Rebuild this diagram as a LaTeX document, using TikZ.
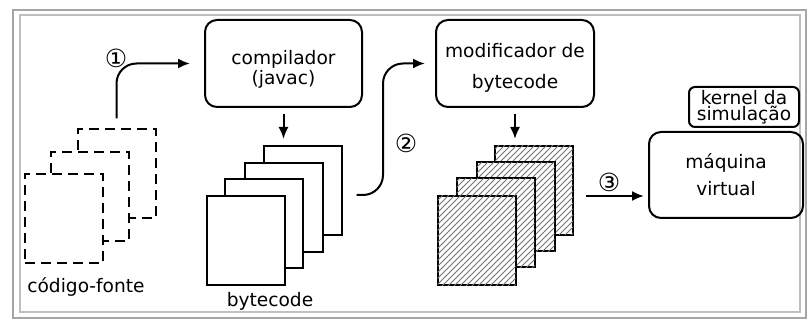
\documentclass[tikz,border=0pt]{standalone}
\usepackage{fontspec}
\setmainfont{DejaVu Sans}
\usetikzlibrary{arrows.meta,patterns}

\tikzset{
  caixa/.style={draw=black, line width=1pt, rounded corners=6pt, align=center,
    inner sep=0pt, font=\fontsize{9.3}{10}\selectfont},
  folha/.style={draw=black, fill=white, line width=1pt, inner sep=0pt,
    minimum width=39pt, minimum height=44.5pt},
  fonte/.style={folha, dash pattern=on 5pt off 3pt},
  alterada/.style={folha, postaction={pattern=north east lines, pattern color=black!55}},
  seta/.style={-{Latex[length=6pt,width=5pt]}, line width=1pt},
  passo/.style={inner sep=0pt, font=\fontsize{12.5}{13}\selectfont},
  rotulo/.style={inner sep=0pt, font=\fontsize{9.3}{10}\selectfont},
}

\begin{document}
\begin{tikzpicture}[x=0.5pt, y=-0.5pt]
    \useasboundingbox (0,0) rectangle (808,320);
    % moldura
    \draw[black!35, line width=1pt] (13,10) rectangle (806,318);
    \draw[black!25, line width=0.8pt] (20,15) rectangle (800,312);

    % codigo-fonte
    \node[fonte] (src3) at (116.5,174) {};
    \node[fonte] (src2) at (90,196.5) {};
    \node[fonte] (src1) at (64,218.5) {};
    \node[rotulo] (lsrc) at (86,287) {código-fonte};

    % compilador e bytecode
    \node[caixa, minimum width=78.5pt, minimum height=43.5pt] (compilador) at (283.5,63.5) {\rule{0pt}{13pt}compilador\\(javac)};
    \node[folha] (bc4) at (302.5,190.5) {};
    \node[folha] (bc3) at (283.5,207.5) {};
    \node[folha] (bc2) at (263.5,223.5) {};
    \node[folha] (bc1) at (246,240.5) {};
    \node[rotulo] (lbc) at (270,301) {bytecode};

    % modificador e bytecode alterado
    \node[caixa, minimum width=79pt, minimum height=43.5pt] (modificador) at (515,63.5) {\rule{0pt}{11pt}modificador de\\[5.5pt]bytecode};
    \node[alterada] (mod4) at (534,190.5) {};
    \node[alterada] (mod3) at (515.5,207) {};
    \node[alterada] (mod2) at (495.5,223) {};
    \node[alterada] (mod1) at (476.5,240.5) {};

    % maquina virtual
    \node[caixa, minimum width=77pt, minimum height=43pt] (maquina) at (726,175) {máquina\\[3.5pt]virtual};
    \node[caixa, rounded corners=3pt, minimum width=55pt, minimum height=20pt,
          font=\fontsize{9.3}{8}\selectfont] (kernel) at (744,107) {kernel da\\simulação};

    % passos
    \node[passo] (p1) at (116,58) {①};
    \node[passo] (p2) at (406,143) {②};
    \node[passo] (p3) at (609,182) {③};

    \coordinate (m2) at (383,130);
    \coordinate (a3) at (586,196);

    \draw[seta, rounded corners=10pt] ([yshift=5pt]src3.north) |- ([xshift=-7pt]compilador.west);
    \draw[seta] ([yshift=-3pt]compilador.south) -- ([yshift=3pt]compilador.south |- bc4.north);
    \draw[seta, rounded corners=10pt] ([xshift=7pt]bc4.east |- bc1.north) -| (m2) |- ([xshift=-5pt]modificador.west);
    \draw[seta] ([yshift=-3pt]modificador.south) -- ([yshift=3pt]modificador.south |- mod4.north);
    \draw[seta] (a3) -- ([xshift=-2pt]a3 -| maquina.west);

\end{tikzpicture}
\end{document}
